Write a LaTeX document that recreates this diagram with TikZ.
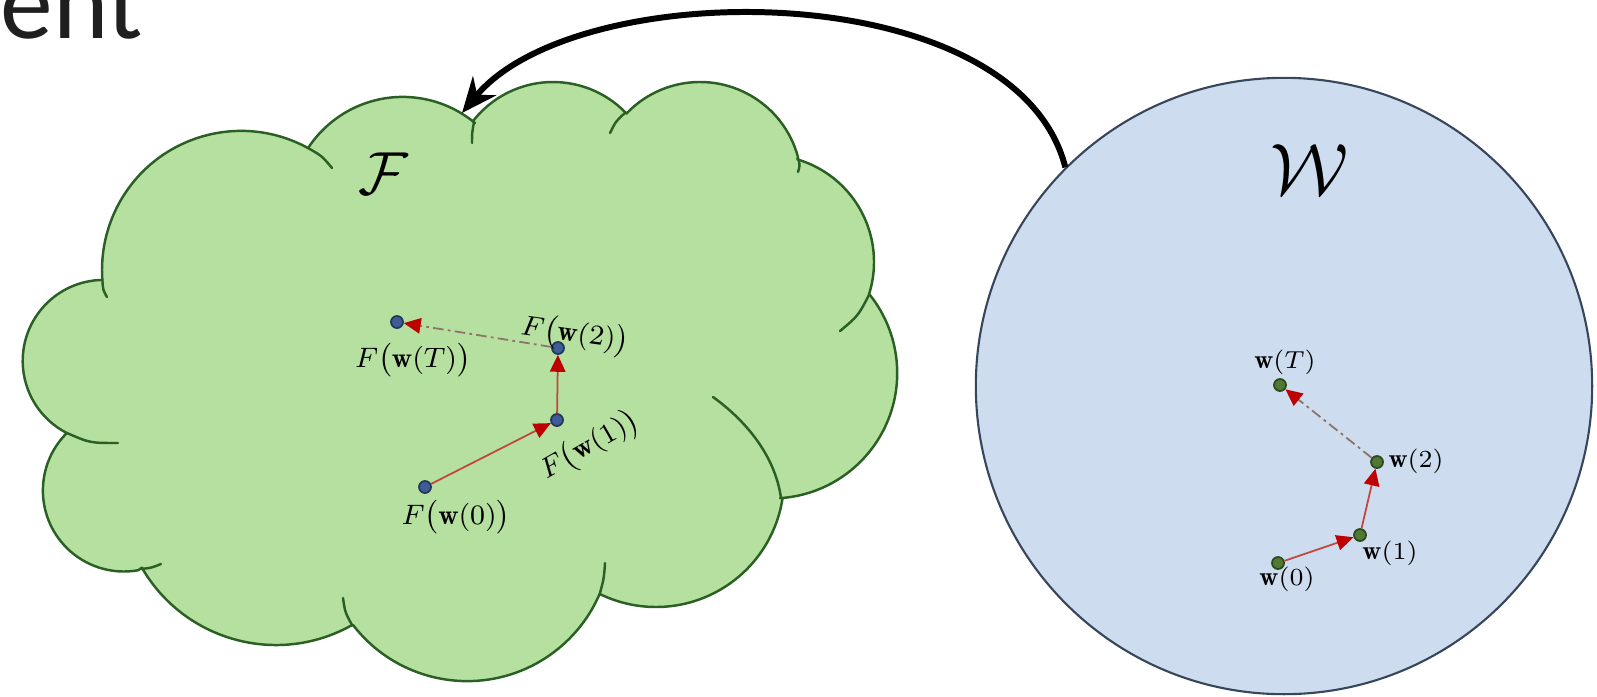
\documentclass[tikz,border=0pt]{standalone}
\usepackage{amsmath,amssymb}
\usepackage{fontspec}
\newfontfamily\titlefont{Carlito}
\usepackage{tikz}
\usetikzlibrary{shapes,arrows,arrows.meta,positioning,calc}
\usepackage{xcolor}
\definecolor{cloudgreen}{RGB}{182,224,160}
\definecolor{cloudline}{RGB}{42,96,36}
\definecolor{spaceblue}{RGB}{205,220,238}
\definecolor{spaceline}{RGB}{55,70,90}
\definecolor{tipred}{RGB}{190,0,0}
\definecolor{moveline}{RGB}{195,70,60}
\definecolor{farline}{RGB}{140,115,105}
\definecolor{fdotblue}{RGB}{62,92,150}
\definecolor{wdotgreen}{RGB}{78,122,52}

\begin{document}
\begin{tikzpicture}[x=0.01cm, y=-0.01cm,
    cloud/.style={draw=cloudline, fill=cloudgreen, line width=0.7pt, line join=round},
    hook/.style={draw=cloudline, line width=0.7pt, line cap=round},
    fdot/.style={circle, draw=fdotblue!60!black, fill=fdotblue, line width=0.5pt, inner sep=0pt, minimum size=0.12cm},
    wdot/.style={circle, draw=wdotgreen!60!black, fill=wdotgreen, line width=0.5pt, inner sep=0pt, minimum size=0.12cm},
    move/.style={draw=moveline, line width=0.5pt, -{Triangle[length=4.8pt,width=4.4pt,color=tipred]}},
    farmove/.style={move, draw=farline, dash pattern=on 3pt off 1.2pt on 0.8pt off 1.2pt},
    flabel/.style={inner sep=0pt, font=\fontsize{8}{10}\selectfont},
    wlabel/.style={inner sep=0pt, font=\fontsize{7.5}{9}\selectfont}]

    \useasboundingbox (0,0) rectangle (1597,696);
    \clip (0,0) rectangle (1597,696);

    % cut-off title
    \node[anchor=base west, inner sep=0pt, text=black!88] (title) at (0,38) {\titlefont\fontsize{30}{36}\selectfont ent};

    % Function space (cloud), one arc per bump
    \path[cloud] ([shift={(103.7,360.9)}]268.8:81) arc[start angle=268.8, end angle=117, radius=81]
        -- ([shift={(123.9,490.5)}]225.3:81) arc[start angle=225.3, end angle=79.9, radius=81]
        -- ([shift={(276,490)}]149.9:155) arc[start angle=149.9, end angle=61.1, radius=155]
        -- ([shift={(467.2,536.9)}]142.4:144.2) arc[start angle=142.4, end angle=22.9, radius=144.2]
        -- ([shift={(656,479)}]116.2:128) arc[start angle=116.2, end angle=8.7, radius=128]
        -- ([shift={(771.8,373)}]86.2:125.4) arc[start angle=86.2, end angle=-38.5, radius=125.4]
        -- ([shift={(767,262)}]17.8:107) arc[start angle=17.8, end angle=-73.5, radius=107]
        -- ([shift={(700,183.5)}]-15.1:101.5) arc[start angle=-15.1, end angle=-136.4, radius=101.5]
        -- ([shift={(553,183.4)}]-44.8:101.4) arc[start angle=-44.8, end angle=-142.2, radius=101.4]
        -- ([shift={(402.7,210)}]-50.3:113.1) arc[start angle=-50.3, end angle=-146.8, radius=113.1]
        -- ([shift={(241.1,270)}]-61.3:139.1) arc[start angle=-61.3, end angle=-184.1, radius=139.1]
        -- cycle;
    % inner ends of the bumps
    \draw[hook] (102.4,280) .. controls (103,290) .. (107,297);
    \draw[hook] (308,148) .. controls (322,156) .. (332,168);
    \draw[hook] (474,122) .. controls (472,133) .. (472,143);
    \draw[hook] (625.5,112.5) .. controls (616,121) .. (610,133);
    \draw[hook] (798,158) .. controls (800,165) .. (798,172);
    \draw[hook] (869,295) .. controls (858,316) .. (840,331);
    \draw[hook] (781,498) .. controls (775,455) and (745,420) .. (713,397);
    \draw[hook] (600,593) .. controls (604,578) .. (605,563);
    \draw[hook] (352,625) .. controls (345,612) .. (343,598);
    \draw[hook] (140,569) .. controls (151,568) .. (161,564);
    \draw[hook] (67,433) .. controls (90,443) .. (118,443);
    \node[font=\fontsize{17}{20}\selectfont] (fname) at (383,174) {$\mathcal{F}$};

    % Weight space (circle)
    \node[circle, draw=spaceline, fill=spaceblue, line width=0.6pt, inner sep=0pt, minimum size=6.16cm] (wspace) at (1284,386) {};
    \node[font=\fontsize{20}{24}\selectfont] (wname) at (1310,170) {$\mathcal{W}$};

    % mapping arrow
    \coordinate (ftip) at (462,113);
    \draw[line width=1.7pt, -{Stealth[length=10pt,width=8.5pt]}] (wspace.135) .. controls (1016,-26) and (577,-26) .. (ftip);

    % iterates in W
    \node[wdot] (w0) at (1278,563) {};
    \node[wdot] (w1) at (1360,535) {};
    \node[wdot] (w2) at (1377,462) {};
    \node[wdot] (wT) at (1280,385) {};
    \draw[move] (w0) -- (w1);
    \draw[move] (w1) -- (w2);
    \draw[farmove] (w2) -- (wT);
    \node[wlabel] (lw0) at (1287,579) {$\mathbf{w}(0)$};
    \node[wlabel] (lw1) at (1390,553) {$\mathbf{w}(1)$};
    \node[wlabel] (lw2) at (1416,461) {$\mathbf{w}(2)$};
    \node[wlabel] (lwT) at (1285,362) {$\mathbf{w}(T)$};

    % images in F
    \node[fdot] (f0) at (425,487) {};
    \node[fdot] (f1) at (557,420) {};
    \node[fdot] (f2) at (558,348) {};
    \node[fdot] (fT) at (397,322) {};
    \draw[move] (f0) -- (f1);
    \draw[move] (f1) -- (f2);
    \draw[farmove] (f2) -- (fT);
    \node[flabel] (lf0) at (456,517) {$F\bigl(\mathbf{w}(0)\bigr)$};
    \node[flabel, rotate=30] (lf1) at (590,446) {$F\bigl(\mathbf{w}(1)\bigr)$};
    \node[flabel, rotate=-8] (lf2) at (575,335) {$F\bigl(\mathbf{w}(2)\bigr)$};
    \node[flabel] (lfT) at (413,360) {$F\bigl(\mathbf{w}(T)\bigr)$};
\end{tikzpicture}
\end{document}
